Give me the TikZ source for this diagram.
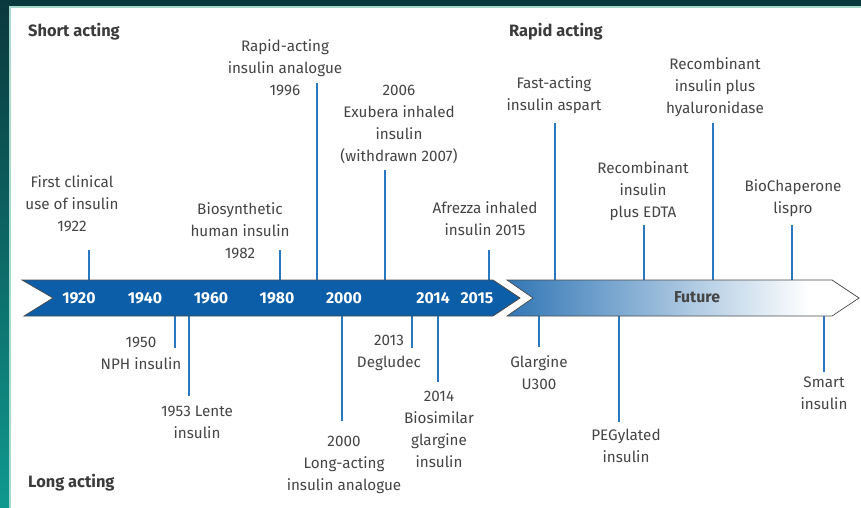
\documentclass[tikz,border=0pt]{standalone}
\usepackage{fontspec}
\setmainfont{Fira Sans}
\definecolor{mblue}{rgb}{0.05, 0.37, 0.66}
\definecolor{mtick}{rgb}{0.16, 0.47, 0.75}
\definecolor{mtext}{rgb}{0.27, 0.27, 0.27}
\definecolor{mdark}{rgb}{0.04, 0.22, 0.24}
\definecolor{mteal}{rgb}{0.06, 0.60, 0.56}
\definecolor{mline}{rgb}{0.65, 0.85, 0.80}
\pgfdeclarehorizontalshading{future}{100bp}{color(0bp)=(mblue!85); color(25bp)=(mblue!85);
  color(68bp)=(white); color(100bp)=(white)}
\tikzset{evt/.style = {align=center, text=mtext, inner sep=0,
                       font=\fontsize{13}{18.8}\selectfont}}
\tikzset{head/.style = {anchor=west, text=mtext!85!black, inner sep=0,
                        font=\fontsize{14}{18.8}\selectfont\bfseries}}
\tikzset{yr/.style = {text=white, font=\fontsize{13.5}{15}\selectfont\bfseries}}
\tikzset{tk/.style = {mtick, line width=1.4pt}}
\tikzset{bar/.style = {draw=black!70, line width=0.6pt}}

\begin{document}
\begin{tikzpicture}[x=0.03cm, y=-0.03cm]
  \useasboundingbox (0,0) rectangle (861,508);
  \shade [top color=mdark, bottom color=mteal] (0,0) rectangle (861,508);
  \fill [white] (10,7) rectangle (861,508);
  \draw [mline, line width=1pt] (10,508) -- (10,7) -- (861,7);

  % ticks up from the bar
  \foreach \n/\x/\y in {1922/89/250, 1982/280/250, 1996/317/83, 2006/385/170,
                        2015/489/250, aspart/555/123, edta/644/225,
                        hyal/713/123, biochap/792/225} {
    \coordinate (t\n a) at (\x, 282);
    \coordinate (t\n b) at (\x, \y);
    \draw [tk] (t\n a) -- (t\n b);
  }
  % ticks down from the bar
  \foreach \n/\x/\y in {1950/175/348, 1953/189/396, 2000/342/421, 2013/412/348,
                        2014/438/382, u300/539/347, peg/619/422, smart/824/372} {
    \coordinate (t\n a) at (\x, 314);
    \coordinate (t\n b) at (\x, \y);
    \draw [tk] (t\n a) -- (t\n b);
  }

  % timeline
  \draw [bar, fill=mblue] (22,280) -- (493,280) -- (520,298) -- (493,316)
    -- (24,316) -- (53,298) -- cycle;
  \shadedraw [bar, shading=future] (507,280) -- (832,280) -- (859,298)
    -- (832,316) -- (507,316) -- (533,298) -- cycle;

  \foreach \yr/\x in {1920/79, 1940/145, 1960/211, 1980/277, 2000/344,
                      2014/433, 2015/477}
    \node [yr] (y\yr) at (\x, 298) {\yr};
  \node [yr, text=mtext] (fut) at (697, 297) {Future};

  \node [head] (short) at (28, 32) {Short acting};
  \node [head] (rapid) at (509, 32) {Rapid acting};
  \node [head] (long) at (28, 483) {Long acting};

  % above
  \node [evt] (e1922) at (72, 204) {First clinical\\use of insulin\\1922};
  \node [evt] (e1982) at (240, 231) {Biosynthetic\\human insulin\\1982};
  \node [evt] (e1996) at (285, 68) {Rapid-acting\\insulin analogue\\1996};
  \node [evt] (e2006) at (399, 124) {2006\\Exubera inhaled\\insulin\\(withdrawn 2007)};
  \node [evt] (e2015) at (485, 219) {Afrezza inhaled\\insulin 2015};
  \node [evt] (aspart) at (554, 95) {Fast-acting\\insulin aspart};
  \node [evt] (edta) at (643, 191) {Recombinant\\insulin\\plus EDTA};
  \node [evt] (hyal) at (715, 87) {Recombinant\\insulin plus\\hyaluronidase};
  \node [evt] (biochap) at (793, 198) {BioChaperone\\lispro};

  % below
  \node [evt] (e1950) at (141, 353) {1950\\NPH insulin};
  \node [evt] (e1953) at (197, 422) {1953 Lente\\insulin};
  \node [evt] (e2000) at (344, 465) {2000\\Long-acting\\insulin analogue};
  \node [evt] (e2013) at (389, 353) {2013\\Degludec};
  \node [evt] (e2014) at (439, 429) {2014\\Biosimilar\\glargine\\insulin};
  \node [evt] (u300) at (539, 373) {Glargine\\U300};
  \node [evt] (peg) at (626, 446) {PEGylated\\insulin};
  \node [evt] (smart) at (824, 393) {Smart\\insulin};
\end{tikzpicture}
\end{document}
